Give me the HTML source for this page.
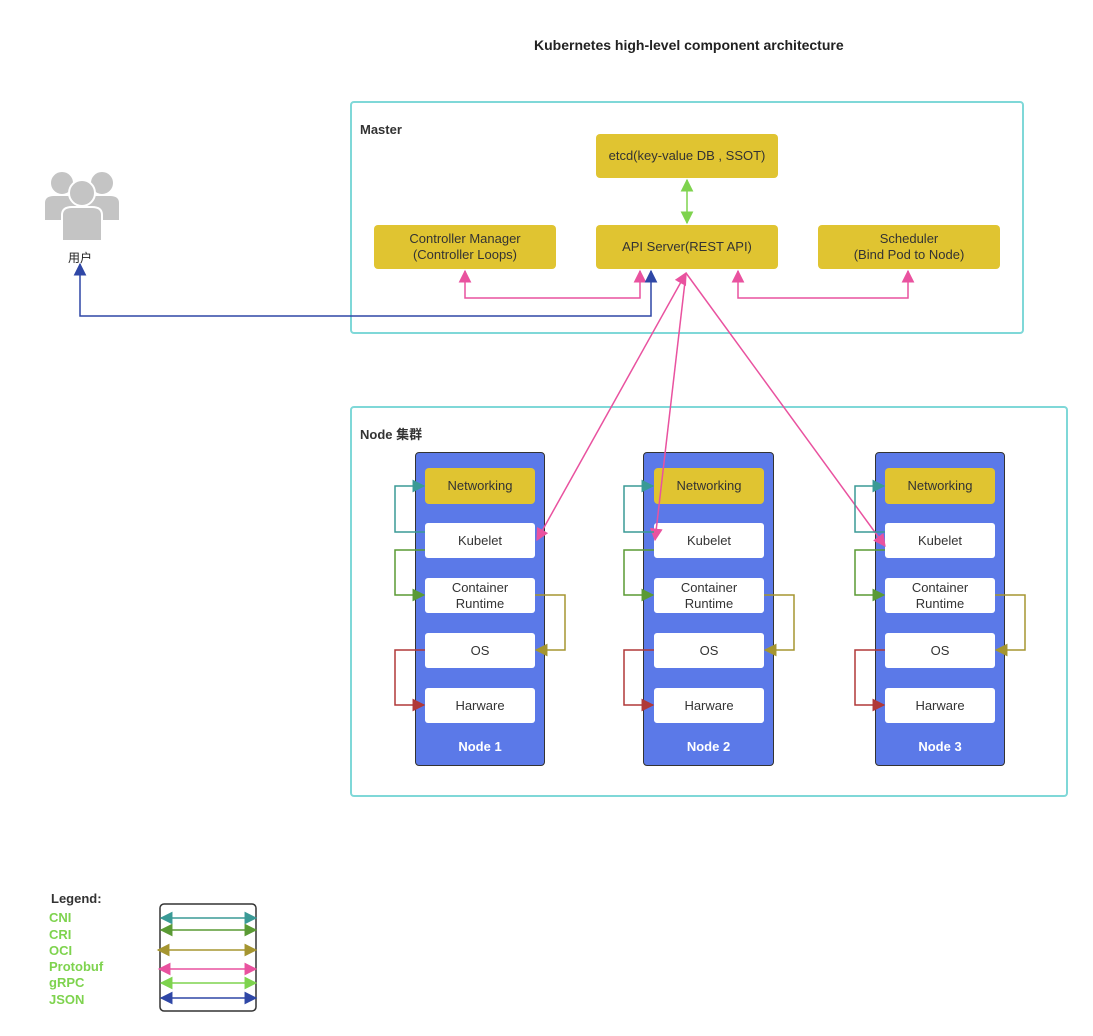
<!DOCTYPE html>
<html><head><meta charset="utf-8"><style>
body{margin:0;background:#fff;width:1093px;height:1036px;position:relative;overflow:hidden;font-family:"Liberation Sans","Noto Sans CJK SC",sans-serif}
.a{position:absolute}
.y{position:absolute;background:#e0c431;border-radius:4px;color:#333;font-size:13px;display:flex;align-items:center;justify-content:center;text-align:center;line-height:16px}
.w{position:absolute;background:#fff;border-radius:3px;color:#333;font-size:13px;display:flex;align-items:center;justify-content:center;text-align:center;line-height:16px}
.n{position:absolute;background:#5b79e8;border:1.5px solid #333;border-radius:4px;box-sizing:border-box}
.nl{position:absolute;color:#fff;font-weight:bold;font-size:13px;text-align:center}
.lg{position:absolute;left:49px;color:#7ed34e;font-weight:bold;font-size:13px;line-height:16px}
</style></head><body>
<div class="a" style="left:534px;top:37px;font-weight:bold;font-size:14px;color:#222">Kubernetes high-level component architecture</div>
<div class="a" style="left:350px;top:101px;width:674px;height:233px;border:2px solid #7fd8d8;border-radius:4px;box-sizing:border-box"></div>
<div class="a" style="left:360px;top:122px;font-weight:bold;font-size:13px;color:#333">Master</div>
<div class="a" style="left:350px;top:406px;width:718px;height:391px;border:2px solid #7fd8d8;border-radius:4px;box-sizing:border-box"></div>
<div class="a" style="left:360px;top:424px;font-weight:bold;font-size:13px;color:#333">Node 集群</div>
<div class="y" style="left:596px;top:134px;width:182px;height:44px">etcd(key-value DB , SSOT)</div>
<div class="y" style="left:374px;top:225px;width:182px;height:44px">Controller Manager<br>(Controller Loops)</div>
<div class="y" style="left:596px;top:225px;width:182px;height:44px">API Server(REST API)</div>
<div class="y" style="left:818px;top:225px;width:182px;height:44px">Scheduler<br>(Bind Pod to Node)</div>

<div class="n" style="left:415px;top:452px;width:130px;height:314px"></div>
<div class="n" style="left:643px;top:452px;width:131px;height:314px"></div>
<div class="n" style="left:875px;top:452px;width:130px;height:314px"></div>
<div class="y" style="left:425px;top:468px;width:110px;height:36px">Networking</div>
<div class="y" style="left:654px;top:468px;width:110px;height:36px">Networking</div>
<div class="y" style="left:885px;top:468px;width:110px;height:36px">Networking</div>
<div class="w" style="left:425px;top:523px;width:110px;height:35px">Kubelet</div>
<div class="w" style="left:654px;top:523px;width:110px;height:35px">Kubelet</div>
<div class="w" style="left:885px;top:523px;width:110px;height:35px">Kubelet</div>
<div class="w" style="left:425px;top:578px;width:110px;height:35px">Container<br>Runtime</div>
<div class="w" style="left:654px;top:578px;width:110px;height:35px">Container<br>Runtime</div>
<div class="w" style="left:885px;top:578px;width:110px;height:35px">Container<br>Runtime</div>
<div class="w" style="left:425px;top:633px;width:110px;height:35px">OS</div>
<div class="w" style="left:654px;top:633px;width:110px;height:35px">OS</div>
<div class="w" style="left:885px;top:633px;width:110px;height:35px">OS</div>
<div class="w" style="left:425px;top:688px;width:110px;height:35px">Harware</div>
<div class="w" style="left:654px;top:688px;width:110px;height:35px">Harware</div>
<div class="w" style="left:885px;top:688px;width:110px;height:35px">Harware</div>
<div class="nl" style="left:415px;top:739px;width:130px">Node 1</div>
<div class="nl" style="left:643px;top:739px;width:131px">Node 2</div>
<div class="nl" style="left:875px;top:739px;width:130px">Node 3</div>

<svg class="a" style="left:40px;top:165px" width="84" height="80" viewBox="0 0 84 80">
<g fill="#c4c4c4" stroke="#fff" stroke-width="2">
<circle cx="22" cy="18" r="12"/><path d="M4 56 V38 Q4 30 14 30 H30 Q40 30 40 38 V56Z"/>
<circle cx="62" cy="18" r="12"/><path d="M44 56 V38 Q44 30 54 30 H70 Q80 30 80 38 V56Z"/>
<circle cx="42" cy="28" r="13"/><path d="M22 76 V50 Q22 42 32 42 H52 Q62 42 62 50 V76Z"/>
</g></svg>
<div class="a" style="left:68px;top:249px;font-size:12px;color:#222">用户</div>

<svg class="a" style="left:0;top:0" width="1093" height="1036">
<defs>
<marker id="pk" viewBox="0 0 10 10" refX="9" refY="5" markerWidth="8.5" markerHeight="8.5" orient="auto-start-reverse"><path d="M0 0L10 5L0 10z" fill="#e9529f"/></marker>
<marker id="bl" viewBox="0 0 10 10" refX="9" refY="5" markerWidth="8.5" markerHeight="8.5" orient="auto-start-reverse"><path d="M0 0L10 5L0 10z" fill="#2f47a6"/></marker>
<marker id="gr" viewBox="0 0 10 10" refX="9" refY="5" markerWidth="8.5" markerHeight="8.5" orient="auto-start-reverse"><path d="M0 0L10 5L0 10z" fill="#7ed34e"/></marker>
<marker id="te" viewBox="0 0 10 10" refX="9" refY="5" markerWidth="8.5" markerHeight="8.5" orient="auto-start-reverse"><path d="M0 0L10 5L0 10z" fill="#3a9a96"/></marker>
<marker id="dg" viewBox="0 0 10 10" refX="9" refY="5" markerWidth="8.5" markerHeight="8.5" orient="auto-start-reverse"><path d="M0 0L10 5L0 10z" fill="#5a9a34"/></marker>
<marker id="ol" viewBox="0 0 10 10" refX="9" refY="5" markerWidth="8.5" markerHeight="8.5" orient="auto-start-reverse"><path d="M0 0L10 5L0 10z" fill="#a59530"/></marker>
<marker id="rd" viewBox="0 0 10 10" refX="9" refY="5" markerWidth="8.5" markerHeight="8.5" orient="auto-start-reverse"><path d="M0 0L10 5L0 10z" fill="#b03838"/></marker>
</defs>
<g fill="none" stroke-width="1.5">
<path d="M687 180V223" stroke="#7ed34e" marker-start="url(#gr)" marker-end="url(#gr)"/>
<path d="M465 271V298H640V271" stroke="#e9529f" marker-start="url(#pk)" marker-end="url(#pk)"/>
<path d="M738 271V298H908V271" stroke="#e9529f" marker-start="url(#pk)" marker-end="url(#pk)"/>
<path d="M80 264V316H651V271" stroke="#2f47a6" marker-start="url(#bl)" marker-end="url(#bl)"/>
<path d="M686 273L537 540" stroke="#e9529f" marker-start="url(#pk)" marker-end="url(#pk)"/>
<path d="M686 273L655 540" stroke="#e9529f" marker-end="url(#pk)"/>
<path d="M686 273L885 546" stroke="#e9529f" marker-end="url(#pk)"/>
<g id="cn">
<path d="M425 532H395V486H424" stroke="#3a9a96" marker-end="url(#te)"/>
<path d="M425 550H395V595H424" stroke="#5a9a34" marker-end="url(#dg)"/>
<path d="M535 595H565V650H536" stroke="#a59530" marker-end="url(#ol)"/>
<path d="M425 650H395V705H424" stroke="#b03838" marker-end="url(#rd)"/>
</g>
<use href="#cn" x="229"/>
<use href="#cn" x="460"/>
<rect x="160" y="904" width="96" height="107" rx="4" stroke="#333"/>
<path d="M161 918H256" stroke="#3a9a96" marker-start="url(#te)" marker-end="url(#te)"/>
<path d="M161 930H256" stroke="#5a9a34" marker-start="url(#dg)" marker-end="url(#dg)"/>
<path d="M158 950H256" stroke="#a59530" marker-start="url(#ol)" marker-end="url(#ol)"/>
<path d="M159 969H256" stroke="#e9529f" marker-start="url(#pk)" marker-end="url(#pk)"/>
<path d="M161 983H256" stroke="#7ed34e" marker-start="url(#gr)" marker-end="url(#gr)"/>
<path d="M161 998H256" stroke="#2f47a6" marker-start="url(#bl)" marker-end="url(#bl)"/>
</g></svg>
<div class="a" style="left:51px;top:891px;font-weight:bold;font-size:13px;color:#333">Legend:</div>
<div class="lg" style="top:910px">CNI</div>
<div class="lg" style="top:927px">CRI</div>
<div class="lg" style="top:943px">OCI</div>
<div class="lg" style="top:959px">Protobuf</div>
<div class="lg" style="top:975px">gRPC</div>
<div class="lg" style="top:992px">JSON</div>
</body></html>
